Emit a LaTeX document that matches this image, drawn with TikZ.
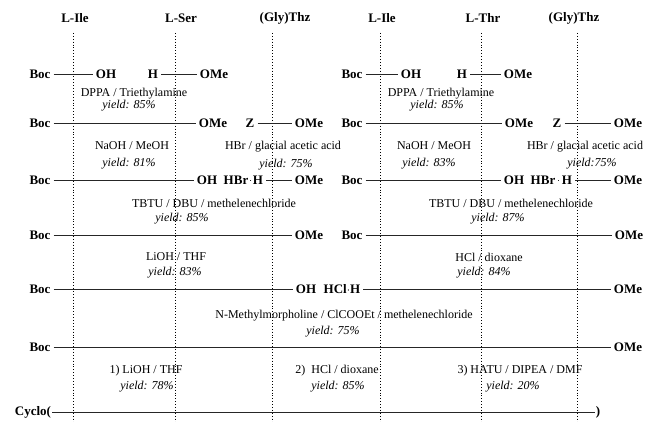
\documentclass[tikz,border=0pt]{standalone}
\usepackage{fontspec}
\setmainfont{Liberation Serif}
\begin{document}
\begin{tikzpicture}[
            x=1pt, y=-1pt,
            head/.style={font=\fontsize{13}{15}\selectfont\bfseries},
            grp/.style={font=\fontsize{13}{15}\selectfont\bfseries, inner sep=3pt, text height=8pt, text depth=0pt},
            rgt/.style={font=\fontsize{12}{14}\selectfont},
            yld/.style={font=\fontsize{12}{14}\selectfont\itshape},
            bond/.style={draw=black!85, line width=1pt},
            guide/.style={draw=black, line width=0.9pt, dotted}
        ]
        \useasboundingbox (0,0) rectangle (646,422);

        \node[head] (ile1) at (75,18) {L-Ile};
        \node[head] (ser) at (181,18) {L-Ser};
        \node[head] (thz1) at (285,18) {(Gly)Thz};
        \node[head] (ile2) at (382,18) {L-Ile};
        \node[head] (thr) at (483,18) {L-Thr};
        \node[head] (thz2) at (574,18) {(Gly)Thz};

        \coordinate (g1a) at (73,33);   \coordinate (g1b) at (73,422);
        \coordinate (g2a) at (175,33);  \coordinate (g2b) at (175,422);
        \coordinate (g3a) at (272,33);  \coordinate (g3b) at (272,422);
        \coordinate (g4a) at (380,33);  \coordinate (g4b) at (380,422);
        \coordinate (g5a) at (481,33);  \coordinate (g5b) at (481,422);
        \coordinate (g6a) at (577,33);  \coordinate (g6b) at (577,422);
        \draw[guide] (g1a) -- (g1b);
        \draw[guide] (g2a) -- (g2b);
        \draw[guide] (g3a) -- (g3b);
        \draw[guide] (g4a) -- (g4b);
        \draw[guide] (g5a) -- (g5b);
        \draw[guide] (g6a) -- (g6b);

        % row 1
        \node[grp] (b1) at (40,75) {Boc};
        \node[grp] (oh1) at (106,75) {OH};
        \node[grp] (h1) at (153,75) {H};
        \node[grp] (me1) at (214,75) {OMe};
        \node[grp] (b1r) at (352,75) {Boc};
        \node[grp] (oh1r) at (411,75) {OH};
        \node[grp] (h1r) at (462,75) {H};
        \node[grp] (me1r) at (518,75) {OMe};
        \draw[bond] (b1) -- (oh1);
        \draw[bond] (h1) -- (me1);
        \draw[bond] (b1r) -- (oh1r);
        \draw[bond] (h1r) -- (me1r);
        \node[rgt] (r1) at (134,94) {DPPA / Triethylamine};
        \node[yld] (y1) at (129,106) {yield: 85\%};
        \node[rgt] (r1r) at (441,94) {DPPA / Triethylamine};
        \node[yld] (y1r) at (437,106) {yield: 85\%};

        % row 2
        \node[grp] (b2) at (40,124) {Boc};
        \node[grp] (me2) at (213,124) {OMe};
        \node[grp] (z2) at (250,124) {Z};
        \node[grp] (mz2) at (309,124) {OMe};
        \node[grp] (b2r) at (352,124) {Boc};
        \node[grp] (me2r) at (519,124) {OMe};
        \node[grp] (z2r) at (557,124) {Z};
        \node[grp] (mz2r) at (628,124) {OMe};
        \draw[bond] (b2) -- (me2);
        \draw[bond] (z2) -- (mz2);
        \draw[bond] (b2r) -- (me2r);
        \draw[bond] (z2r) -- (mz2r);
        \node[rgt] (r2) at (132,146) {NaOH / MeOH};
        \node[yld] (y2) at (129,164) {yield: 81\%};
        \node[rgt] (r2b) at (283,147) {HBr / glacial acetic acid};
        \node[yld] (y2b) at (286,165) {yield: 75\%};
        \node[rgt] (r2r) at (434,146) {NaOH / MeOH};
        \node[yld] (y2r) at (429,164) {yield: 83\%};
        \node[rgt] (r2s) at (585,147) {HBr / glacial acetic acid};
        \node[yld] (y2s) at (592,164) {yield:75\%};

        % row 3
        \node[grp] (b3) at (40,181) {Boc};
        \node[grp] (oh3) at (207,181) {OH};
        \node[grp] (hb3) at (236,181) {HBr};
        \node[grp] (h3) at (258,181) {H};
        \node[grp] (me3) at (309,181) {OMe};
        \node[grp] (b3r) at (352,181) {Boc};
        \node[grp] (oh3r) at (514,181) {OH};
        \node[grp] (hb3r) at (543,181) {HBr};
        \node[grp] (h3r) at (567,181) {H};
        \node[grp] (me3r) at (628,181) {OMe};
        \draw[bond] (b3) -- (oh3);
        \draw[bond] (hb3) -- (h3);
        \draw[bond] (h3) -- (me3);
        \draw[bond] (b3r) -- (oh3r);
        \draw[bond] (hb3r) -- (h3r);
        \draw[bond] (h3r) -- (me3r);
        \node[rgt] (r3) at (214,203) {TBTU / DBU / methelenechloride};
        \node[yld] (y3) at (182,219) {yield: 85\%};
        \node[rgt] (r3r) at (511,203) {TBTU / DBU / methelenechloride};
        \node[yld] (y3r) at (498,219) {yield: 87\%};

        % row 4
        \node[grp] (b4) at (40,236) {Boc};
        \node[grp] (me4) at (309,236) {OMe};
        \node[grp] (b4r) at (352,236) {Boc};
        \node[grp] (me4r) at (629,236) {OMe};
        \draw[bond] (b4) -- (me4);
        \draw[bond] (b4r) -- (me4r);
        \node[rgt] (r4) at (176,257) {LiOH / THF};
        \node[yld] (y4) at (175,273) {yield: 83\%};
        \node[rgt] (r4r) at (489,257) {HCl / dioxane};
        \node[yld] (y4r) at (484,273) {yield: 84\%};

        % row 5
        \node[grp] (b5) at (40,290) {Boc};
        \node[grp] (oh5) at (306,290) {OH};
        \node[grp] (hc5) at (342,290) {HCl$\cdot$H};
        \node[grp] (me5) at (628,290) {OMe};
        \draw[bond] (b5) -- (oh5);
        \draw[bond] (hc5) -- (me5);
        \node[rgt] (r5) at (344,316) {N-Methylmorpholine / ClCOOEt / methelenechloride};
        \node[yld] (y5) at (333,332) {yield: 75\%};

        % row 6
        \node[grp] (b6) at (40,348) {Boc};
        \node[grp] (me6) at (628,348) {OMe};
        \draw[bond] (b6) -- (me6);
        \node[rgt] (r6a) at (146,371) {1) LiOH / THF};
        \node[yld] (y6a) at (147,387) {yield: 78\%};
        \node[rgt] (r6b) at (337,371) {2)\ \ HCl / dioxane};
        \node[yld] (y6b) at (338,387) {yield: 85\%};
        \node[rgt] (r6c) at (520,371) {3) HATU / DIPEA / DMF};
        \node[yld] (y6c) at (513,387) {yield: 20\%};

        % row 7
        \node[grp, inner sep=1pt] (cyc) at (33,412) {Cyclo(};
        \node[grp, inner sep=1pt] (end) at (598,412) {)};
        \draw[bond] (cyc) -- (end);
    \end{tikzpicture}
\end{document}
